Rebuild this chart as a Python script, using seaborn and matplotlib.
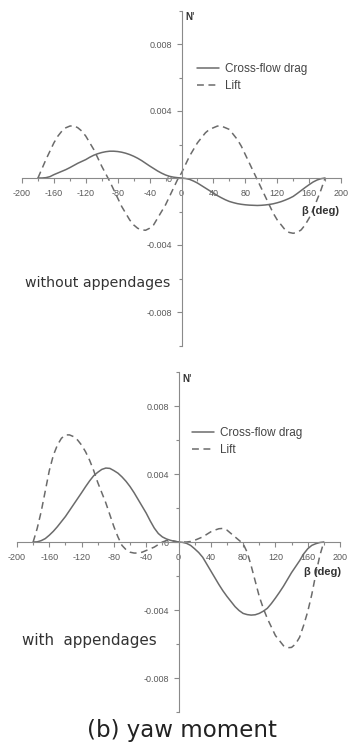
import numpy as np
import pandas as pd
import matplotlib
matplotlib.use("Agg")
import matplotlib.pyplot as plt
import seaborn as sns

# Drift angle grid (deg), 5 deg steps from -180 to 180
beta = list(range(-180, 185, 5))

# Yaw moment N' without appendages
drag_bare = [0.0, 0.0, 0.00002, 0.00008, 0.0002, 0.0003, 0.0004, 0.0005, 0.00062, 0.00075,
             0.00088, 0.00099, 0.0011, 0.00124, 0.00136, 0.00145, 0.00152, 0.00157, 0.0016,
             0.0016, 0.00158, 0.00154, 0.00148, 0.0014, 0.0013, 0.00118, 0.00104, 0.00088,
             0.00072, 0.00057, 0.00042, 0.00029, 0.00018, 0.0001, 0.00005, 0.00002,
             0.0,
             -0.00003, -0.00008, -0.00018, -0.0003, -0.00045, -0.0006, -0.00075, -0.0009,
             -0.00105, -0.00118, -0.0013, -0.0014, -0.00147, -0.00153, -0.00157, -0.0016,
             -0.00162, -0.00163, -0.00164, -0.00163, -0.00161, -0.00158, -0.00154, -0.00148,
             -0.00141, -0.00132, -0.00122, -0.0011, -0.00093, -0.00075, -0.00057, -0.0004,
             -0.00024, -0.00012, -0.00004, 0.0]
lift_bare = [0.0, 0.00055, 0.0011, 0.0016, 0.0021, 0.0025, 0.0028, 0.003, 0.0031, 0.00312,
             0.003, 0.0028, 0.0025, 0.0021, 0.0017, 0.0012, 0.0007, 0.00025, -0.0002,
             -0.0007, -0.0012, -0.0017, -0.0021, -0.0025, -0.0028, -0.003, -0.0031, -0.00312,
             -0.003, -0.0028, -0.0024, -0.002, -0.0016, -0.0011, -0.0006, -0.0001,
             0.0003,
             0.0008, 0.0013, 0.0017, 0.0021, 0.0024, 0.0027, 0.0029, 0.003,
             0.0031, 0.0031, 0.003, 0.0029, 0.0026, 0.0023, 0.0019, 0.0014,
             0.0009, 0.0004, -0.0001, -0.0006, -0.0011, -0.0016, -0.0021, -0.0025,
             -0.0028, -0.0031, -0.00325, -0.0033, -0.00325, -0.0031, -0.0028, -0.0024,
             -0.0019, -0.0013, -0.0007, 0.0]

# Yaw moment N' with appendages
drag_app = [0.0, 0.00001, 0.00008, 0.0002, 0.0004, 0.00063, 0.0009, 0.0012, 0.0015, 0.00185,
            0.0022, 0.00255, 0.0029, 0.00326, 0.0036, 0.0039, 0.0041, 0.00427, 0.00435,
            0.00433, 0.0042, 0.00405, 0.00383, 0.00357, 0.00326, 0.0029, 0.0025, 0.0021,
            0.0017, 0.00124, 0.00082, 0.0005, 0.0003, 0.00018, 0.0001, 0.00004,
            0.0,
            -0.00002, -0.00008, -0.0002, -0.0004, -0.00062, -0.0009, -0.0013, -0.0017,
            -0.0021, -0.0025, -0.00287, -0.0032, -0.0035, -0.0038, -0.00403, -0.0042,
            -0.00427, -0.0043, -0.00428, -0.0042, -0.00407, -0.0039, -0.00362, -0.0033,
            -0.00296, -0.0026, -0.0022, -0.0018, -0.00145, -0.0011, -0.0007, -0.0004,
            -0.0002, -0.0001, -0.00003, 0.0]
lift_app = [0.0, 0.0008, 0.0018, 0.003, 0.0042, 0.0051, 0.0057, 0.0061, 0.0063, 0.0063,
            0.0062, 0.006, 0.0057, 0.0053, 0.0048, 0.0042, 0.0035, 0.0029, 0.0023,
            0.0016, 0.0009, 0.0003, -0.0002, -0.00045, -0.0006, -0.00065, -0.00065, -0.0006,
            -0.0005, -0.0004, -0.0003, -0.00015, 0.0, 0.00008, 0.0001, 0.00005,
            0.0,
            0.0, 0.0, 0.00003, 0.0001, 0.0002, 0.0003, 0.00045, 0.0006,
            0.0007, 0.00078, 0.0008, 0.0007, 0.0005, 0.0003, 0.0001, -0.0001,
            -0.0006, -0.0014, -0.0023, -0.0032, -0.0039, -0.0045, -0.005, -0.0055,
            -0.0058, -0.0061, -0.00622, -0.0062, -0.006, -0.0056, -0.0049, -0.0041,
            -0.0031, -0.0019, -0.0008, 0.0]

x_ticks = [-200, -160, -120, -80, -40, 0, 40, 80, 120, 160, 200]
x_tick_labels = ["-200", "-160", "-120", "-80", "-40", "0", "40", "80", "120", "160", "200"]
y_ticks = [-0.008, -0.004, 0.0, 0.004, 0.008]
y_tick_labels = ["-0.008", "-0.004", "0", "0.004", "0.008"]
series_names = ["Cross-flow drag", "Lift"]
panel_notes = ["without appendages", "with  appendages"]

sns.set_theme(style="white")
plt.rcParams["font.family"] = ["Liberation Sans", "DejaVu Sans"]

W, H = 350, 744
fig = plt.figure(figsize=(W / 100, H / 100), dpi=100)

LINE = "#6b6b6b"
AXIS = "#8a8a8a"
TICKTXT = "#5a5a5a"
DASH = (0, (4.5, 3))


def px_box(x0, y0, x1, y1):
    return [x0 / W, 1 - y1 / H, (x1 - x0) / W, (y1 - y0) / H]


def style_axes(ax):
    for s in ("top", "right"):
        ax.spines[s].set_visible(False)
    for s in ("left", "bottom"):
        ax.spines[s].set_position(("data", 0))
        ax.spines[s].set_color(AXIS)
        ax.spines[s].set_linewidth(0.8)
    ax.set_xlim(-200, 200)
    ax.set_ylim(-0.010, 0.010)
    ax.set_xticks(x_ticks)
    ax.set_xticklabels(x_tick_labels)
    ax.set_xticks(np.arange(-180, 200, 40), minor=True)
    ax.set_yticks(y_ticks)
    ax.set_yticklabels(y_tick_labels)
    ax.set_yticks([-0.010, -0.006, -0.002, 0.002, 0.006, 0.010], minor=True)
    ax.tick_params(which="both", direction="out", color=AXIS, width=0.8,
                   labelsize=6.5, labelcolor=TICKTXT, bottom=True, left=True)
    ax.tick_params(which="major", length=3.6)
    ax.tick_params(which="minor", length=2.2)
    ax.tick_params(axis="x", pad=4.5)
    ax.tick_params(axis="y", pad=3.2)
    ax.set_xlabel("")
    ax.set_ylabel("")
    ax.patch.set_alpha(0)


def draw_panel(box, drag, lift, legend_xy, nlabel_xy, blabel_xy, note, note_xy, note_size):
    ax = fig.add_axes(px_box(*box))
    df = pd.DataFrame({"beta": beta, "drag": drag, "lift": lift})
    sns.lineplot(data=df, x="beta", y="drag", ax=ax, color=LINE, lw=1.1,
                 label=series_names[0])
    sns.lineplot(data=df, x="beta", y="lift", ax=ax, color=LINE, lw=1.1,
                 linestyle=DASH, label=series_names[1])
    style_axes(ax)
    ax.legend(loc="upper left", bbox_to_anchor=(legend_xy[0] / W, 1 - legend_xy[1] / H),
              bbox_transform=fig.transFigure, frameon=False, borderaxespad=0,
              borderpad=0, fontsize=8.5, handlelength=1.9, handletextpad=0.5,
              labelspacing=0.45, labelcolor="#444444")
    fig.text(nlabel_xy[0] / W, 1 - nlabel_xy[1] / H, "N'", fontsize=7,
             fontweight="bold", color="#333333", ha="left", va="center")
    fig.text(blabel_xy[0] / W, 1 - blabel_xy[1] / H, "β (deg)", fontsize=8,
             fontweight="bold", color="#333333", ha="center", va="center")
    fig.text(note_xy[0] / W, 1 - note_xy[1] / H, note, fontsize=note_size,
             color="#333333", ha="left", va="center", family="DejaVu Sans")
    return ax


draw_panel((22, 10.5, 341, 345.5), drag_bare, lift_bare,
           legend_xy=(197, 63), nlabel_xy=(185, 17), blabel_xy=(320, 211),
           note=panel_notes[0], note_xy=(25, 283), note_size=10.2)
draw_panel((17, 372, 340, 712), drag_app, lift_app,
           legend_xy=(192, 427), nlabel_xy=(182, 379), blabel_xy=(323, 572),
           note=panel_notes[1], note_xy=(22, 640), note_size=10.9)

fig.text(182 / W, 1 - 730 / H, "(b) yaw moment", fontsize=16.5, color="#222222",
         ha="center", va="center", family="DejaVu Sans")

fig.savefig("out.png", dpi=100, facecolor="white")
